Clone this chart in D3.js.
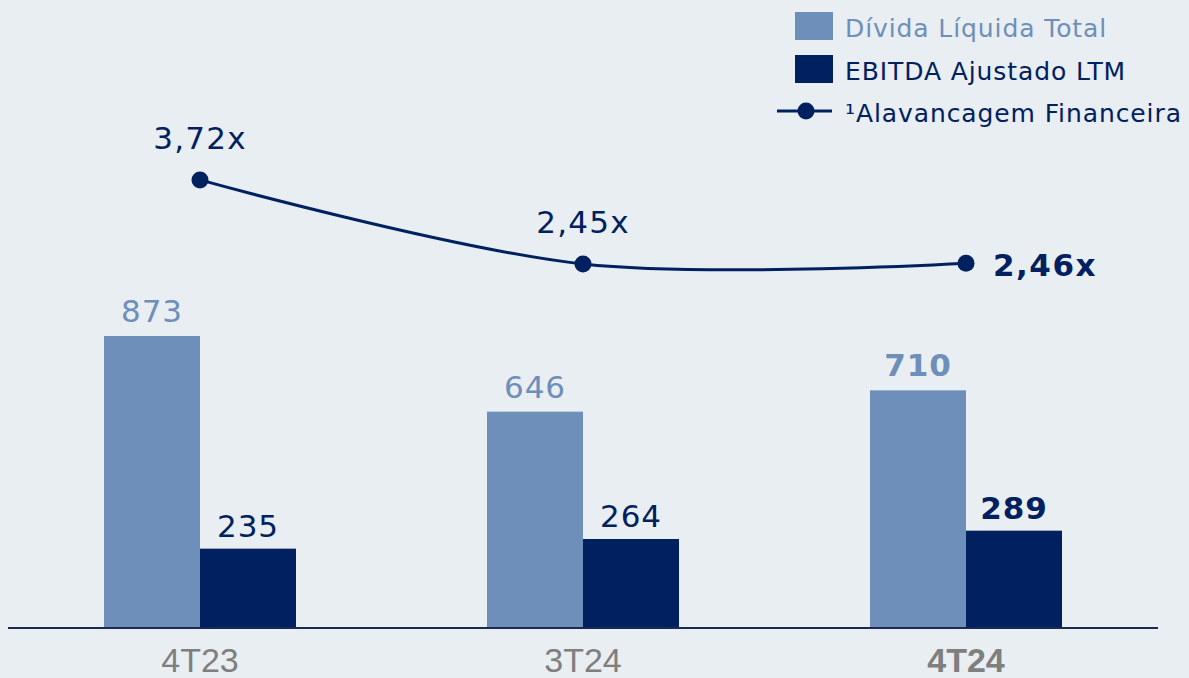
<!DOCTYPE html>
<html>
<head>
<meta charset="utf-8">
<script src="https://cdn.jsdelivr.net/npm/d3@7"></script>
<style>
  body { margin: 0; background: #e8eef1; }
  svg { display: block; }
</style>
</head>
<body>
<script>
var periods = ["4T23", "3T24", "4T24"]
var dividaLiquida = [873, 646, 710]
var ebitdaAjustado = [235, 264, 289]
var alavancagem = [3.72, 2.45, 2.46]
var alavancagemLabels = ["3,72x", "2,45x", "2,46x"]
var legendNames = ["Dívida Líquida Total", "EBITDA Ajustado LTM", "¹Alavancagem Financeira"]

var lightBlue = "#6e8fba"
var navy = "#002060"
var font = "'DejaVu Sans', sans-serif"

var width = 1189, height = 678

var svg = d3.select("body").append("svg")
  .attr("width", width)
  .attr("height", height)

svg.append("rect").attr("width", width).attr("height", height).attr("fill", "#e8eef1")

// group scale, centres at 200 / 583 / 966
var x = d3.scalePoint()
  .domain(periods)
  .range([200, 966])

var barW = 96

var y = d3.scaleLinear()
  .domain([0, 1881])
  .range([627, 0])

var y2 = d3.scaleLinear()
  .domain([0, 6.44])
  .range([426, 0])

// bars
var bars = svg.append("g")
bars.selectAll(".div")
  .data(dividaLiquida)
  .join("rect")
  .attr("x", (d, i) => x(periods[i]) - barW)
  .attr("y", d => y(d))
  .attr("width", barW)
  .attr("height", d => y(0) - y(d))
  .attr("fill", lightBlue)

bars.selectAll(".ebt")
  .data(ebitdaAjustado)
  .join("rect")
  .attr("x", (d, i) => x(periods[i]))
  .attr("y", d => y(d))
  .attr("width", barW)
  .attr("height", d => y(0) - y(d))
  .attr("fill", navy)

// bar labels
svg.append("g").selectAll("text")
  .data(dividaLiquida)
  .join("text")
  .attr("x", (d, i) => x(periods[i]) - barW / 2)
  .attr("y", d => y(d) - 14)
  .attr("text-anchor", "middle")
  .attr("font-family", font)
  .attr("font-size", 31)
  .attr("letter-spacing", 1)
  .attr("font-weight", (d, i) => i == 2 ? "bold" : "normal")
  .attr("fill", lightBlue)
  .text(d => d)

svg.append("g").selectAll("text")
  .data(ebitdaAjustado)
  .join("text")
  .attr("x", (d, i) => x(periods[i]) + barW / 2)
  .attr("y", d => y(d) - 12)
  .attr("text-anchor", "middle")
  .attr("font-family", font)
  .attr("font-size", 31)
  .attr("letter-spacing", 1)
  .attr("font-weight", (d, i) => i == 2 ? "bold" : "normal")
  .attr("fill", navy)
  .text(d => d)

// axis line
svg.append("line")
  .attr("x1", 8).attr("x2", 1158)
  .attr("y1", y(0) + 1).attr("y2", y(0) + 1)
  .attr("stroke", "#1a2a55")
  .attr("stroke-width", 2)

// x labels
svg.append("g").selectAll("text")
  .data(periods)
  .join("text")
  .attr("x", d => x(d))
  .attr("y", 672)
  .attr("text-anchor", "middle")
  .attr("font-family", "'Liberation Sans Narrow', 'Liberation Sans', sans-serif")
  .attr("font-size", 34)
  .attr("font-weight", (d, i) => i == 2 ? "bold" : "normal")
  .attr("fill", "#7f7f7f")
  .text(d => d)

// leverage line
var line = d3.line()
  .x((d, i) => x(periods[i]))
  .y(d => y2(d))
  .curve(d3.curveCatmullRom.alpha(0.5))

svg.append("path")
  .datum(alavancagem)
  .attr("d", line)
  .attr("fill", "none")
  .attr("stroke", navy)
  .attr("stroke-width", 3)

svg.append("g").selectAll("circle")
  .data(alavancagem)
  .join("circle")
  .attr("cx", (d, i) => x(periods[i]))
  .attr("cy", d => y2(d))
  .attr("r", 8.5)
  .attr("fill", navy)

svg.append("g").selectAll("text")
  .data(alavancagem)
  .join("text")
  .attr("x", (d, i) => i == 2 ? x(periods[i]) + 27 : x(periods[i]))
  .attr("y", (d, i) => i == 2 ? y2(d) + 13 : y2(d) - 31)
  .attr("text-anchor", (d, i) => i == 2 ? "start" : "middle")
  .attr("font-family", font)
  .attr("font-size", 31)
  .attr("letter-spacing", (d, i) => i == 2 ? 1.5 : 1.2)
  .attr("font-weight", (d, i) => i == 2 ? "bold" : "normal")
  .attr("fill", navy)
  .text((d, i) => alavancagemLabels[i])

// legend
var legend = svg.append("g")
legend.append("rect").attr("x", 795).attr("y", 12).attr("width", 38).attr("height", 28).attr("fill", lightBlue)
legend.append("rect").attr("x", 795).attr("y", 55).attr("width", 38).attr("height", 28).attr("fill", navy)
legend.append("line").attr("x1", 777).attr("x2", 832).attr("y1", 111).attr("y2", 111)
  .attr("stroke", navy).attr("stroke-width", 3)
legend.append("circle").attr("cx", 806).attr("cy", 111).attr("r", 8.5).attr("fill", navy)

legend.selectAll("text")
  .data(legendNames)
  .join("text")
  .attr("x", 845)
  .attr("y", (d, i) => 37 + i * 42.5)
  .attr("font-family", font)
  .attr("font-size", 25)
  .attr("letter-spacing", 0.9)
  .attr("fill", (d, i) => i == 0 ? lightBlue : navy)
  .text(d => d)
</script>
</body>
</html>
